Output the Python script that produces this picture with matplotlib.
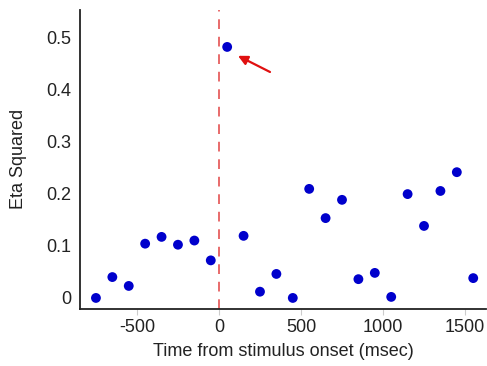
import matplotlib
matplotlib.use('Agg')
import matplotlib.pyplot as plt

plt.rcParams['font.family'] = ['Liberation Sans', 'DejaVu Sans']

# time bins (msec) and effect sizes
times = [-750, -650, -550, -450, -350, -250, -150, -50, 50, 150, 250, 350,
         450, 550, 650, 750, 850, 950, 1050, 1150, 1250, 1350, 1450, 1550]
eta_sq = [0.0, 0.040, 0.023, 0.104, 0.117, 0.102, 0.110, 0.072, 0.481, 0.119, 0.012, 0.046,
          0.0, 0.209, 0.153, 0.188, 0.036, 0.048, 0.002, 0.199, 0.138, 0.205, 0.241, 0.038]
xticks = [-500, 0, 500, 1000, 1500]
yticks = [0, 0.1, 0.2, 0.3, 0.4, 0.5]

fig = plt.figure(figsize=(4.87, 3.66), dpi=100)
ax = fig.add_axes([0.164, 0.156, 0.834, 0.817])

ax.axvline(0, color='#e86a6a', linestyle=(0, (5, 4)), linewidth=1.4, zorder=1)
ax.scatter(times, eta_sq, s=50, color='#0000cc', edgecolors='none', zorder=3)

ax.annotate('', xy=(116, 0.464), xytext=(311, 0.433),
            arrowprops=dict(arrowstyle='-|>', color='#e01010', lw=1.6,
                            mutation_scale=14, shrinkA=0, shrinkB=0))

ax.set_xlim(-848, 1628)
ax.set_ylim(-0.021, 0.552)
ax.set_xticks(xticks)
ax.set_xticklabels([str(t) for t in xticks])
ax.set_yticks(yticks)
ax.set_yticklabels(['0', '0.1', '0.2', '0.3', '0.4', '0.5'])

for s in ['top', 'right']:
    ax.spines[s].set_visible(False)
for s in ['left', 'bottom']:
    ax.spines[s].set_color('#222222')
    ax.spines[s].set_linewidth(1.3)

ax.tick_params(axis='x', length=4, color='#cccccc', labelsize=13, pad=3, labelcolor='#222222')
ax.tick_params(axis='y', length=0, labelsize=13, pad=6, labelcolor='#222222')

ax.set_xlabel('Time from stimulus onset (msec)', fontsize=13, color='#222222', labelpad=5)
ax.set_ylabel('Eta Squared', fontsize=13, color='#222222', labelpad=14)

fig.savefig('out.png', dpi=100)
